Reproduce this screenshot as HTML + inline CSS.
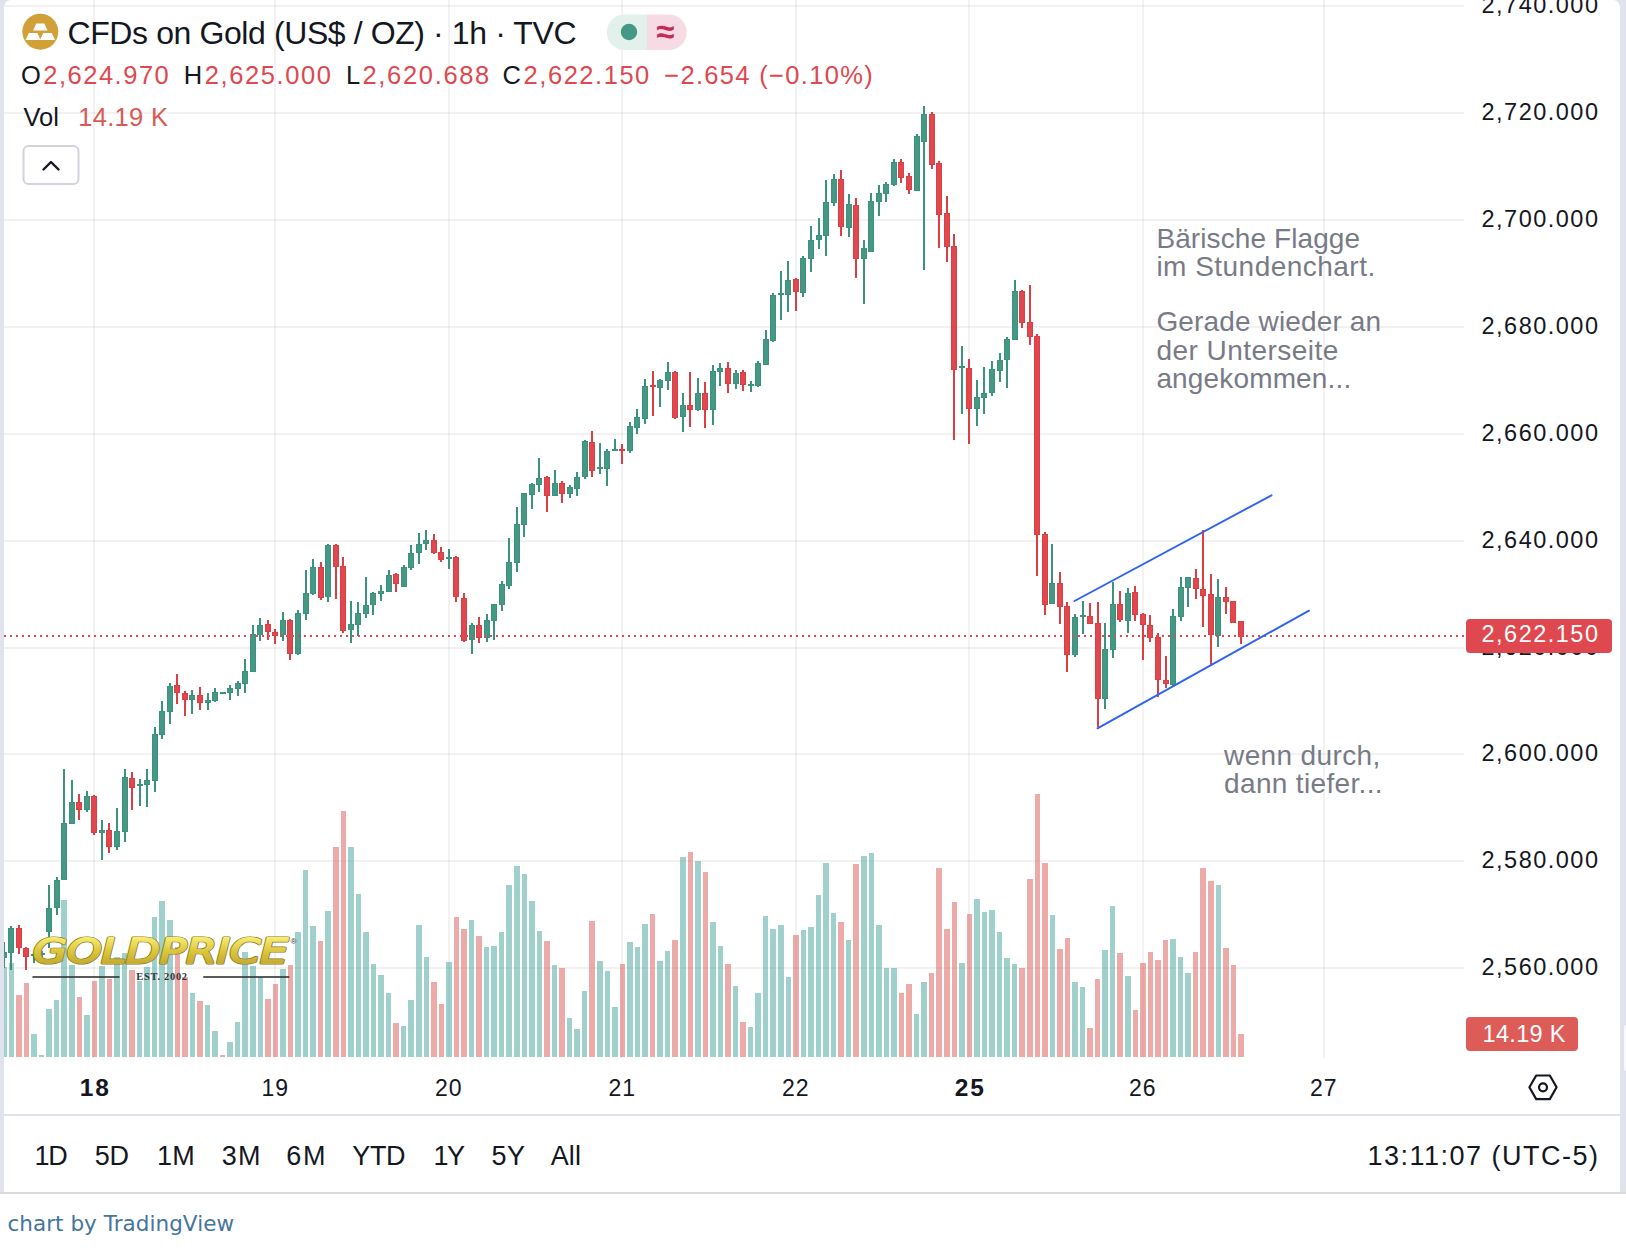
<!DOCTYPE html>
<html lang="de"><head><meta charset="utf-8"><title>CFDs on Gold (US$ / OZ) 1h TVC</title>
<style>html,body{margin:0;padding:0;background:#fff}body{width:1626px;height:1248px;position:relative;overflow:hidden}</style>
</head><body>
<svg width="1626" height="1248" viewBox="0 0 1626 1248" style="position:absolute;left:0;top:0;font-family:'Liberation Sans', sans-serif">
<defs>
<linearGradient id="gold" x1="0" y1="0" x2="0" y2="1">
<stop offset="0" stop-color="#b9a32e"/><stop offset="0.16" stop-color="#f8ec72"/><stop offset="0.5" stop-color="#dcc63e"/><stop offset="0.8" stop-color="#c6ac30"/><stop offset="1" stop-color="#eadb60"/>
</linearGradient>
<clipPath id="pane"><rect x="4" y="0" width="1460" height="1058"/></clipPath>
</defs>
<g shape-rendering="crispEdges">
<rect x="4" y="5" width="1460" height="2" fill="#000" fill-opacity="0.052"/>
<rect x="4" y="112" width="1460" height="2" fill="#000" fill-opacity="0.052"/>
<rect x="4" y="219" width="1460" height="2" fill="#000" fill-opacity="0.052"/>
<rect x="4" y="326" width="1460" height="2" fill="#000" fill-opacity="0.052"/>
<rect x="4" y="433" width="1460" height="2" fill="#000" fill-opacity="0.052"/>
<rect x="4" y="540" width="1460" height="2" fill="#000" fill-opacity="0.052"/>
<rect x="4" y="647" width="1460" height="2" fill="#000" fill-opacity="0.052"/>
<rect x="4" y="753" width="1460" height="2" fill="#000" fill-opacity="0.052"/>
<rect x="4" y="860" width="1460" height="2" fill="#000" fill-opacity="0.052"/>
<rect x="4" y="967" width="1460" height="2" fill="#000" fill-opacity="0.052"/>
<rect x="93" y="0" width="2" height="1058" fill="#000" fill-opacity="0.052"/>
<rect x="274" y="0" width="2" height="1058" fill="#000" fill-opacity="0.052"/>
<rect x="448" y="0" width="2" height="1058" fill="#000" fill-opacity="0.052"/>
<rect x="621" y="0" width="2" height="1058" fill="#000" fill-opacity="0.052"/>
<rect x="795" y="0" width="2" height="1058" fill="#000" fill-opacity="0.052"/>
<rect x="968" y="0" width="2" height="1058" fill="#000" fill-opacity="0.052"/>
<rect x="1142" y="0" width="2" height="1058" fill="#000" fill-opacity="0.052"/>
<rect x="1323" y="0" width="2" height="1058" fill="#000" fill-opacity="0.052"/>
</g>
<g shape-rendering="crispEdges" clip-path="url(#pane)">
<rect x="1" y="967" width="6" height="90" fill="rgba(65,161,151,0.5)"/>
<rect x="9" y="963" width="5" height="94" fill="rgba(65,161,151,0.5)"/>
<rect x="16" y="995" width="6" height="62" fill="rgba(217,87,83,0.5)"/>
<rect x="24" y="983" width="5" height="74" fill="rgba(217,87,83,0.5)"/>
<rect x="31" y="1034" width="6" height="23" fill="rgba(65,161,151,0.5)"/>
<rect x="39" y="1055" width="5" height="2" fill="rgba(65,161,151,0.5)"/>
<rect x="46" y="1009" width="6" height="48" fill="rgba(65,161,151,0.5)"/>
<rect x="54" y="1000" width="5" height="57" fill="rgba(65,161,151,0.5)"/>
<rect x="61" y="900" width="6" height="157" fill="rgba(65,161,151,0.5)"/>
<rect x="69" y="965" width="6" height="92" fill="rgba(65,161,151,0.5)"/>
<rect x="77" y="997" width="5" height="60" fill="rgba(217,87,83,0.5)"/>
<rect x="84" y="1015" width="6" height="42" fill="rgba(65,161,151,0.5)"/>
<rect x="92" y="981" width="5" height="76" fill="rgba(217,87,83,0.5)"/>
<rect x="99" y="966" width="6" height="91" fill="rgba(65,161,151,0.5)"/>
<rect x="107" y="979" width="5" height="78" fill="rgba(217,87,83,0.5)"/>
<rect x="114" y="957" width="6" height="100" fill="rgba(65,161,151,0.5)"/>
<rect x="122" y="953" width="5" height="104" fill="rgba(65,161,151,0.5)"/>
<rect x="129" y="970" width="6" height="87" fill="rgba(217,87,83,0.5)"/>
<rect x="137" y="981" width="5" height="76" fill="rgba(65,161,151,0.5)"/>
<rect x="144" y="967" width="6" height="90" fill="rgba(65,161,151,0.5)"/>
<rect x="152" y="917" width="5" height="140" fill="rgba(65,161,151,0.5)"/>
<rect x="159" y="901" width="6" height="156" fill="rgba(65,161,151,0.5)"/>
<rect x="167" y="920" width="6" height="137" fill="rgba(65,161,151,0.5)"/>
<rect x="175" y="947" width="5" height="110" fill="rgba(217,87,83,0.5)"/>
<rect x="182" y="977" width="6" height="80" fill="rgba(217,87,83,0.5)"/>
<rect x="190" y="993" width="5" height="64" fill="rgba(65,161,151,0.5)"/>
<rect x="197" y="1001" width="6" height="56" fill="rgba(217,87,83,0.5)"/>
<rect x="205" y="1005" width="5" height="52" fill="rgba(65,161,151,0.5)"/>
<rect x="212" y="1031" width="6" height="26" fill="rgba(65,161,151,0.5)"/>
<rect x="220" y="1055" width="5" height="2" fill="rgba(217,87,83,0.5)"/>
<rect x="227" y="1042" width="6" height="15" fill="rgba(65,161,151,0.5)"/>
<rect x="235" y="1022" width="5" height="35" fill="rgba(65,161,151,0.5)"/>
<rect x="242" y="952" width="6" height="105" fill="rgba(65,161,151,0.5)"/>
<rect x="250" y="966" width="6" height="91" fill="rgba(65,161,151,0.5)"/>
<rect x="258" y="977" width="5" height="80" fill="rgba(65,161,151,0.5)"/>
<rect x="265" y="999" width="6" height="58" fill="rgba(217,87,83,0.5)"/>
<rect x="273" y="984" width="5" height="73" fill="rgba(217,87,83,0.5)"/>
<rect x="280" y="969" width="6" height="88" fill="rgba(65,161,151,0.5)"/>
<rect x="288" y="965" width="5" height="92" fill="rgba(217,87,83,0.5)"/>
<rect x="295" y="932" width="6" height="125" fill="rgba(65,161,151,0.5)"/>
<rect x="303" y="870" width="5" height="187" fill="rgba(65,161,151,0.5)"/>
<rect x="310" y="926" width="6" height="131" fill="rgba(65,161,151,0.5)"/>
<rect x="318" y="941" width="5" height="116" fill="rgba(217,87,83,0.5)"/>
<rect x="325" y="911" width="6" height="146" fill="rgba(65,161,151,0.5)"/>
<rect x="333" y="847" width="6" height="210" fill="rgba(217,87,83,0.5)"/>
<rect x="341" y="811" width="5" height="246" fill="rgba(217,87,83,0.5)"/>
<rect x="348" y="847" width="6" height="210" fill="rgba(65,161,151,0.5)"/>
<rect x="356" y="894" width="5" height="163" fill="rgba(65,161,151,0.5)"/>
<rect x="363" y="932" width="6" height="125" fill="rgba(65,161,151,0.5)"/>
<rect x="371" y="964" width="5" height="93" fill="rgba(65,161,151,0.5)"/>
<rect x="378" y="975" width="6" height="82" fill="rgba(65,161,151,0.5)"/>
<rect x="386" y="993" width="5" height="64" fill="rgba(65,161,151,0.5)"/>
<rect x="393" y="1023" width="6" height="34" fill="rgba(217,87,83,0.5)"/>
<rect x="401" y="1026" width="5" height="31" fill="rgba(65,161,151,0.5)"/>
<rect x="408" y="1000" width="6" height="57" fill="rgba(65,161,151,0.5)"/>
<rect x="416" y="925" width="6" height="132" fill="rgba(65,161,151,0.5)"/>
<rect x="424" y="957" width="5" height="100" fill="rgba(65,161,151,0.5)"/>
<rect x="431" y="982" width="6" height="75" fill="rgba(217,87,83,0.5)"/>
<rect x="439" y="1004" width="5" height="53" fill="rgba(217,87,83,0.5)"/>
<rect x="446" y="962" width="6" height="95" fill="rgba(65,161,151,0.5)"/>
<rect x="454" y="917" width="5" height="140" fill="rgba(217,87,83,0.5)"/>
<rect x="461" y="929" width="6" height="128" fill="rgba(217,87,83,0.5)"/>
<rect x="469" y="920" width="5" height="137" fill="rgba(65,161,151,0.5)"/>
<rect x="476" y="936" width="6" height="121" fill="rgba(217,87,83,0.5)"/>
<rect x="484" y="947" width="5" height="110" fill="rgba(65,161,151,0.5)"/>
<rect x="491" y="946" width="6" height="111" fill="rgba(65,161,151,0.5)"/>
<rect x="499" y="932" width="5" height="125" fill="rgba(65,161,151,0.5)"/>
<rect x="506" y="885" width="6" height="172" fill="rgba(65,161,151,0.5)"/>
<rect x="514" y="866" width="6" height="191" fill="rgba(65,161,151,0.5)"/>
<rect x="522" y="874" width="5" height="183" fill="rgba(65,161,151,0.5)"/>
<rect x="529" y="901" width="6" height="156" fill="rgba(65,161,151,0.5)"/>
<rect x="537" y="931" width="5" height="126" fill="rgba(65,161,151,0.5)"/>
<rect x="544" y="941" width="6" height="116" fill="rgba(217,87,83,0.5)"/>
<rect x="552" y="965" width="5" height="92" fill="rgba(65,161,151,0.5)"/>
<rect x="559" y="968" width="6" height="89" fill="rgba(217,87,83,0.5)"/>
<rect x="567" y="1018" width="5" height="39" fill="rgba(65,161,151,0.5)"/>
<rect x="574" y="1029" width="6" height="28" fill="rgba(65,161,151,0.5)"/>
<rect x="582" y="991" width="5" height="66" fill="rgba(65,161,151,0.5)"/>
<rect x="589" y="921" width="6" height="136" fill="rgba(217,87,83,0.5)"/>
<rect x="597" y="961" width="6" height="96" fill="rgba(65,161,151,0.5)"/>
<rect x="605" y="971" width="5" height="86" fill="rgba(65,161,151,0.5)"/>
<rect x="612" y="1007" width="6" height="50" fill="rgba(65,161,151,0.5)"/>
<rect x="620" y="964" width="5" height="93" fill="rgba(217,87,83,0.5)"/>
<rect x="627" y="942" width="6" height="115" fill="rgba(65,161,151,0.5)"/>
<rect x="635" y="947" width="5" height="110" fill="rgba(65,161,151,0.5)"/>
<rect x="642" y="924" width="6" height="133" fill="rgba(65,161,151,0.5)"/>
<rect x="650" y="914" width="5" height="143" fill="rgba(217,87,83,0.5)"/>
<rect x="657" y="961" width="6" height="96" fill="rgba(65,161,151,0.5)"/>
<rect x="665" y="951" width="5" height="106" fill="rgba(65,161,151,0.5)"/>
<rect x="672" y="940" width="6" height="117" fill="rgba(217,87,83,0.5)"/>
<rect x="680" y="857" width="6" height="200" fill="rgba(65,161,151,0.5)"/>
<rect x="688" y="852" width="5" height="205" fill="rgba(217,87,83,0.5)"/>
<rect x="695" y="861" width="6" height="196" fill="rgba(65,161,151,0.5)"/>
<rect x="703" y="872" width="5" height="185" fill="rgba(217,87,83,0.5)"/>
<rect x="710" y="922" width="6" height="135" fill="rgba(65,161,151,0.5)"/>
<rect x="718" y="946" width="5" height="111" fill="rgba(65,161,151,0.5)"/>
<rect x="725" y="964" width="6" height="93" fill="rgba(217,87,83,0.5)"/>
<rect x="733" y="986" width="5" height="71" fill="rgba(65,161,151,0.5)"/>
<rect x="740" y="1022" width="6" height="35" fill="rgba(217,87,83,0.5)"/>
<rect x="748" y="1027" width="5" height="30" fill="rgba(65,161,151,0.5)"/>
<rect x="755" y="993" width="6" height="64" fill="rgba(65,161,151,0.5)"/>
<rect x="763" y="916" width="5" height="141" fill="rgba(65,161,151,0.5)"/>
<rect x="770" y="929" width="6" height="128" fill="rgba(65,161,151,0.5)"/>
<rect x="778" y="925" width="6" height="132" fill="rgba(65,161,151,0.5)"/>
<rect x="786" y="977" width="5" height="80" fill="rgba(65,161,151,0.5)"/>
<rect x="793" y="935" width="6" height="122" fill="rgba(217,87,83,0.5)"/>
<rect x="801" y="930" width="5" height="127" fill="rgba(65,161,151,0.5)"/>
<rect x="808" y="927" width="6" height="130" fill="rgba(65,161,151,0.5)"/>
<rect x="816" y="895" width="5" height="162" fill="rgba(65,161,151,0.5)"/>
<rect x="823" y="863" width="6" height="194" fill="rgba(65,161,151,0.5)"/>
<rect x="831" y="913" width="5" height="144" fill="rgba(65,161,151,0.5)"/>
<rect x="838" y="922" width="6" height="135" fill="rgba(217,87,83,0.5)"/>
<rect x="846" y="940" width="5" height="117" fill="rgba(65,161,151,0.5)"/>
<rect x="853" y="864" width="6" height="193" fill="rgba(217,87,83,0.5)"/>
<rect x="861" y="856" width="6" height="201" fill="rgba(65,161,151,0.5)"/>
<rect x="869" y="853" width="5" height="204" fill="rgba(65,161,151,0.5)"/>
<rect x="876" y="925" width="6" height="132" fill="rgba(65,161,151,0.5)"/>
<rect x="884" y="968" width="5" height="89" fill="rgba(65,161,151,0.5)"/>
<rect x="891" y="968" width="6" height="89" fill="rgba(65,161,151,0.5)"/>
<rect x="899" y="993" width="5" height="64" fill="rgba(217,87,83,0.5)"/>
<rect x="906" y="984" width="6" height="73" fill="rgba(217,87,83,0.5)"/>
<rect x="914" y="1014" width="5" height="43" fill="rgba(65,161,151,0.5)"/>
<rect x="921" y="982" width="6" height="75" fill="rgba(65,161,151,0.5)"/>
<rect x="929" y="973" width="5" height="84" fill="rgba(217,87,83,0.5)"/>
<rect x="936" y="868" width="6" height="189" fill="rgba(217,87,83,0.5)"/>
<rect x="944" y="929" width="6" height="128" fill="rgba(217,87,83,0.5)"/>
<rect x="952" y="902" width="5" height="155" fill="rgba(217,87,83,0.5)"/>
<rect x="959" y="963" width="6" height="94" fill="rgba(65,161,151,0.5)"/>
<rect x="967" y="914" width="5" height="143" fill="rgba(217,87,83,0.5)"/>
<rect x="974" y="899" width="6" height="158" fill="rgba(65,161,151,0.5)"/>
<rect x="982" y="912" width="5" height="145" fill="rgba(65,161,151,0.5)"/>
<rect x="989" y="910" width="6" height="147" fill="rgba(65,161,151,0.5)"/>
<rect x="997" y="932" width="5" height="125" fill="rgba(65,161,151,0.5)"/>
<rect x="1004" y="958" width="6" height="99" fill="rgba(65,161,151,0.5)"/>
<rect x="1012" y="964" width="5" height="93" fill="rgba(65,161,151,0.5)"/>
<rect x="1019" y="968" width="6" height="89" fill="rgba(217,87,83,0.5)"/>
<rect x="1027" y="879" width="6" height="178" fill="rgba(217,87,83,0.5)"/>
<rect x="1035" y="794" width="5" height="263" fill="rgba(217,87,83,0.5)"/>
<rect x="1042" y="863" width="6" height="194" fill="rgba(217,87,83,0.5)"/>
<rect x="1050" y="915" width="5" height="142" fill="rgba(65,161,151,0.5)"/>
<rect x="1057" y="949" width="6" height="108" fill="rgba(217,87,83,0.5)"/>
<rect x="1065" y="938" width="5" height="119" fill="rgba(217,87,83,0.5)"/>
<rect x="1072" y="982" width="6" height="75" fill="rgba(65,161,151,0.5)"/>
<rect x="1080" y="987" width="5" height="70" fill="rgba(65,161,151,0.5)"/>
<rect x="1087" y="1028" width="6" height="29" fill="rgba(217,87,83,0.5)"/>
<rect x="1095" y="979" width="5" height="78" fill="rgba(217,87,83,0.5)"/>
<rect x="1102" y="950" width="6" height="107" fill="rgba(65,161,151,0.5)"/>
<rect x="1110" y="906" width="5" height="151" fill="rgba(65,161,151,0.5)"/>
<rect x="1117" y="953" width="6" height="104" fill="rgba(217,87,83,0.5)"/>
<rect x="1125" y="976" width="6" height="81" fill="rgba(65,161,151,0.5)"/>
<rect x="1133" y="1010" width="5" height="47" fill="rgba(217,87,83,0.5)"/>
<rect x="1140" y="963" width="6" height="94" fill="rgba(217,87,83,0.5)"/>
<rect x="1148" y="952" width="5" height="105" fill="rgba(217,87,83,0.5)"/>
<rect x="1155" y="960" width="6" height="97" fill="rgba(217,87,83,0.5)"/>
<rect x="1163" y="940" width="5" height="117" fill="rgba(217,87,83,0.5)"/>
<rect x="1170" y="939" width="6" height="118" fill="rgba(65,161,151,0.5)"/>
<rect x="1178" y="957" width="5" height="100" fill="rgba(65,161,151,0.5)"/>
<rect x="1185" y="973" width="6" height="84" fill="rgba(65,161,151,0.5)"/>
<rect x="1193" y="952" width="5" height="105" fill="rgba(217,87,83,0.5)"/>
<rect x="1200" y="868" width="6" height="189" fill="rgba(217,87,83,0.5)"/>
<rect x="1208" y="881" width="6" height="176" fill="rgba(217,87,83,0.5)"/>
<rect x="1216" y="885" width="5" height="172" fill="rgba(65,161,151,0.5)"/>
<rect x="1223" y="948" width="6" height="109" fill="rgba(217,87,83,0.5)"/>
<rect x="1231" y="965" width="5" height="92" fill="rgba(217,87,83,0.5)"/>
<rect x="1238" y="1034" width="6" height="23" fill="rgba(217,87,83,0.5)"/>
</g>
<g shape-rendering="crispEdges" clip-path="url(#pane)">
<rect x="3" y="942" width="2" height="26" fill="#3b937d"/>
<rect x="1" y="952" width="6" height="6" fill="#3b937d"/>
<rect x="2" y="953" width="4" height="4" fill="#459883"/>
<rect x="10" y="926" width="2" height="44" fill="#3b937d"/>
<rect x="8" y="928" width="6" height="25" fill="#3b937d"/>
<rect x="9" y="929" width="4" height="23" fill="#459883"/>
<rect x="18" y="925" width="2" height="29" fill="#dd3e44"/>
<rect x="16" y="928" width="6" height="20" fill="#dd3e44"/>
<rect x="17" y="929" width="4" height="18" fill="#de484e"/>
<rect x="25" y="947" width="2" height="23" fill="#dd3e44"/>
<rect x="23" y="948" width="6" height="9" fill="#dd3e44"/>
<rect x="24" y="949" width="4" height="7" fill="#de484e"/>
<rect x="33" y="953" width="2" height="10" fill="#3b937d"/>
<rect x="31" y="954" width="6" height="2" fill="#3b937d"/>
<rect x="41" y="951" width="2" height="7" fill="#3b937d"/>
<rect x="39" y="953" width="6" height="2" fill="#3b937d"/>
<rect x="48" y="885" width="2" height="63" fill="#3b937d"/>
<rect x="46" y="908" width="6" height="24" fill="#3b937d"/>
<rect x="47" y="909" width="4" height="22" fill="#459883"/>
<rect x="56" y="877" width="2" height="38" fill="#3b937d"/>
<rect x="54" y="880" width="6" height="28" fill="#3b937d"/>
<rect x="55" y="881" width="4" height="26" fill="#459883"/>
<rect x="63" y="769" width="2" height="111" fill="#3b937d"/>
<rect x="61" y="823" width="6" height="57" fill="#3b937d"/>
<rect x="62" y="824" width="4" height="55" fill="#459883"/>
<rect x="71" y="780" width="2" height="44" fill="#3b937d"/>
<rect x="69" y="802" width="6" height="22" fill="#3b937d"/>
<rect x="70" y="803" width="4" height="20" fill="#459883"/>
<rect x="78" y="794" width="2" height="26" fill="#dd3e44"/>
<rect x="76" y="802" width="6" height="8" fill="#dd3e44"/>
<rect x="77" y="803" width="4" height="6" fill="#de484e"/>
<rect x="86" y="791" width="2" height="21" fill="#3b937d"/>
<rect x="84" y="796" width="6" height="14" fill="#3b937d"/>
<rect x="85" y="797" width="4" height="12" fill="#459883"/>
<rect x="93" y="795" width="2" height="40" fill="#dd3e44"/>
<rect x="91" y="796" width="6" height="37" fill="#dd3e44"/>
<rect x="92" y="797" width="4" height="35" fill="#de484e"/>
<rect x="101" y="820" width="2" height="40" fill="#3b937d"/>
<rect x="99" y="830" width="6" height="3" fill="#3b937d"/>
<rect x="100" y="831" width="4" height="1" fill="#459883"/>
<rect x="108" y="823" width="2" height="30" fill="#dd3e44"/>
<rect x="106" y="830" width="6" height="17" fill="#dd3e44"/>
<rect x="107" y="831" width="4" height="15" fill="#de484e"/>
<rect x="116" y="808" width="2" height="42" fill="#3b937d"/>
<rect x="114" y="831" width="6" height="16" fill="#3b937d"/>
<rect x="115" y="832" width="4" height="14" fill="#459883"/>
<rect x="124" y="769" width="2" height="73" fill="#3b937d"/>
<rect x="122" y="777" width="6" height="55" fill="#3b937d"/>
<rect x="123" y="778" width="4" height="53" fill="#459883"/>
<rect x="131" y="772" width="2" height="38" fill="#dd3e44"/>
<rect x="129" y="778" width="6" height="10" fill="#dd3e44"/>
<rect x="130" y="779" width="4" height="8" fill="#de484e"/>
<rect x="139" y="779" width="2" height="27" fill="#3b937d"/>
<rect x="137" y="784" width="6" height="2" fill="#3b937d"/>
<rect x="146" y="769" width="2" height="38" fill="#3b937d"/>
<rect x="144" y="780" width="6" height="5" fill="#3b937d"/>
<rect x="145" y="781" width="4" height="3" fill="#459883"/>
<rect x="154" y="727" width="2" height="65" fill="#3b937d"/>
<rect x="152" y="734" width="6" height="47" fill="#3b937d"/>
<rect x="153" y="735" width="4" height="45" fill="#459883"/>
<rect x="161" y="701" width="2" height="38" fill="#3b937d"/>
<rect x="159" y="711" width="6" height="24" fill="#3b937d"/>
<rect x="160" y="712" width="4" height="22" fill="#459883"/>
<rect x="169" y="683" width="2" height="41" fill="#3b937d"/>
<rect x="167" y="686" width="6" height="26" fill="#3b937d"/>
<rect x="168" y="687" width="4" height="24" fill="#459883"/>
<rect x="176" y="674" width="2" height="30" fill="#dd3e44"/>
<rect x="174" y="685" width="6" height="8" fill="#dd3e44"/>
<rect x="175" y="686" width="4" height="6" fill="#de484e"/>
<rect x="184" y="691" width="2" height="25" fill="#dd3e44"/>
<rect x="182" y="693" width="6" height="7" fill="#dd3e44"/>
<rect x="183" y="694" width="4" height="5" fill="#de484e"/>
<rect x="191" y="690" width="2" height="24" fill="#3b937d"/>
<rect x="189" y="695" width="6" height="5" fill="#3b937d"/>
<rect x="190" y="696" width="4" height="3" fill="#459883"/>
<rect x="199" y="687" width="2" height="23" fill="#dd3e44"/>
<rect x="197" y="695" width="6" height="8" fill="#dd3e44"/>
<rect x="198" y="696" width="4" height="6" fill="#de484e"/>
<rect x="207" y="693" width="2" height="17" fill="#3b937d"/>
<rect x="205" y="700" width="6" height="3" fill="#3b937d"/>
<rect x="206" y="701" width="4" height="1" fill="#459883"/>
<rect x="214" y="688" width="2" height="14" fill="#3b937d"/>
<rect x="212" y="692" width="6" height="9" fill="#3b937d"/>
<rect x="213" y="693" width="4" height="7" fill="#459883"/>
<rect x="222" y="692" width="2" height="2" fill="#3b937d"/>
<rect x="220" y="692" width="6" height="2" fill="#3b937d"/>
<rect x="229" y="685" width="2" height="15" fill="#3b937d"/>
<rect x="227" y="688" width="6" height="5" fill="#3b937d"/>
<rect x="228" y="689" width="4" height="3" fill="#459883"/>
<rect x="237" y="681" width="2" height="15" fill="#3b937d"/>
<rect x="235" y="683" width="6" height="6" fill="#3b937d"/>
<rect x="236" y="684" width="4" height="4" fill="#459883"/>
<rect x="244" y="659" width="2" height="34" fill="#3b937d"/>
<rect x="242" y="671" width="6" height="13" fill="#3b937d"/>
<rect x="243" y="672" width="4" height="11" fill="#459883"/>
<rect x="252" y="625" width="2" height="47" fill="#3b937d"/>
<rect x="250" y="634" width="6" height="38" fill="#3b937d"/>
<rect x="251" y="635" width="4" height="36" fill="#459883"/>
<rect x="259" y="618" width="2" height="23" fill="#3b937d"/>
<rect x="257" y="625" width="6" height="10" fill="#3b937d"/>
<rect x="258" y="626" width="4" height="8" fill="#459883"/>
<rect x="267" y="620" width="2" height="20" fill="#dd3e44"/>
<rect x="265" y="624" width="6" height="8" fill="#dd3e44"/>
<rect x="266" y="625" width="4" height="6" fill="#de484e"/>
<rect x="274" y="629" width="2" height="15" fill="#dd3e44"/>
<rect x="272" y="632" width="6" height="4" fill="#dd3e44"/>
<rect x="273" y="633" width="4" height="2" fill="#de484e"/>
<rect x="282" y="612" width="2" height="29" fill="#3b937d"/>
<rect x="280" y="620" width="6" height="15" fill="#3b937d"/>
<rect x="281" y="621" width="4" height="13" fill="#459883"/>
<rect x="289" y="619" width="2" height="41" fill="#dd3e44"/>
<rect x="287" y="620" width="6" height="34" fill="#dd3e44"/>
<rect x="288" y="621" width="4" height="32" fill="#de484e"/>
<rect x="297" y="610" width="2" height="45" fill="#3b937d"/>
<rect x="295" y="613" width="6" height="41" fill="#3b937d"/>
<rect x="296" y="614" width="4" height="39" fill="#459883"/>
<rect x="305" y="570" width="2" height="50" fill="#3b937d"/>
<rect x="303" y="593" width="6" height="21" fill="#3b937d"/>
<rect x="304" y="594" width="4" height="19" fill="#459883"/>
<rect x="312" y="559" width="2" height="36" fill="#3b937d"/>
<rect x="310" y="567" width="6" height="27" fill="#3b937d"/>
<rect x="311" y="568" width="4" height="25" fill="#459883"/>
<rect x="320" y="562" width="2" height="38" fill="#dd3e44"/>
<rect x="318" y="567" width="6" height="31" fill="#dd3e44"/>
<rect x="319" y="568" width="4" height="29" fill="#de484e"/>
<rect x="327" y="544" width="2" height="58" fill="#3b937d"/>
<rect x="325" y="545" width="6" height="52" fill="#3b937d"/>
<rect x="326" y="546" width="4" height="50" fill="#459883"/>
<rect x="335" y="544" width="2" height="55" fill="#dd3e44"/>
<rect x="333" y="545" width="6" height="22" fill="#dd3e44"/>
<rect x="334" y="546" width="4" height="20" fill="#de484e"/>
<rect x="342" y="557" width="2" height="76" fill="#dd3e44"/>
<rect x="340" y="566" width="6" height="65" fill="#dd3e44"/>
<rect x="341" y="567" width="4" height="63" fill="#de484e"/>
<rect x="350" y="601" width="2" height="42" fill="#3b937d"/>
<rect x="348" y="624" width="6" height="6" fill="#3b937d"/>
<rect x="349" y="625" width="4" height="4" fill="#459883"/>
<rect x="357" y="602" width="2" height="34" fill="#3b937d"/>
<rect x="355" y="613" width="6" height="12" fill="#3b937d"/>
<rect x="356" y="614" width="4" height="10" fill="#459883"/>
<rect x="365" y="577" width="2" height="41" fill="#3b937d"/>
<rect x="363" y="605" width="6" height="9" fill="#3b937d"/>
<rect x="364" y="606" width="4" height="7" fill="#459883"/>
<rect x="372" y="592" width="2" height="23" fill="#3b937d"/>
<rect x="370" y="593" width="6" height="12" fill="#3b937d"/>
<rect x="371" y="594" width="4" height="10" fill="#459883"/>
<rect x="380" y="585" width="2" height="16" fill="#3b937d"/>
<rect x="378" y="591" width="6" height="3" fill="#3b937d"/>
<rect x="379" y="592" width="4" height="1" fill="#459883"/>
<rect x="388" y="570" width="2" height="22" fill="#3b937d"/>
<rect x="386" y="575" width="6" height="17" fill="#3b937d"/>
<rect x="387" y="576" width="4" height="15" fill="#459883"/>
<rect x="395" y="573" width="2" height="19" fill="#dd3e44"/>
<rect x="393" y="574" width="6" height="10" fill="#dd3e44"/>
<rect x="394" y="575" width="4" height="8" fill="#de484e"/>
<rect x="403" y="565" width="2" height="22" fill="#3b937d"/>
<rect x="401" y="567" width="6" height="20" fill="#3b937d"/>
<rect x="402" y="568" width="4" height="18" fill="#459883"/>
<rect x="410" y="545" width="2" height="25" fill="#3b937d"/>
<rect x="408" y="553" width="6" height="15" fill="#3b937d"/>
<rect x="409" y="554" width="4" height="13" fill="#459883"/>
<rect x="418" y="533" width="2" height="31" fill="#3b937d"/>
<rect x="416" y="544" width="6" height="9" fill="#3b937d"/>
<rect x="417" y="545" width="4" height="7" fill="#459883"/>
<rect x="425" y="530" width="2" height="20" fill="#3b937d"/>
<rect x="423" y="540" width="6" height="4" fill="#3b937d"/>
<rect x="424" y="541" width="4" height="2" fill="#459883"/>
<rect x="433" y="534" width="2" height="20" fill="#dd3e44"/>
<rect x="431" y="540" width="6" height="13" fill="#dd3e44"/>
<rect x="432" y="541" width="4" height="11" fill="#de484e"/>
<rect x="440" y="547" width="2" height="15" fill="#dd3e44"/>
<rect x="438" y="552" width="6" height="8" fill="#dd3e44"/>
<rect x="439" y="553" width="4" height="6" fill="#de484e"/>
<rect x="448" y="549" width="2" height="20" fill="#3b937d"/>
<rect x="446" y="557" width="6" height="2" fill="#3b937d"/>
<rect x="455" y="556" width="2" height="46" fill="#dd3e44"/>
<rect x="453" y="557" width="6" height="40" fill="#dd3e44"/>
<rect x="454" y="558" width="4" height="38" fill="#de484e"/>
<rect x="463" y="593" width="2" height="49" fill="#dd3e44"/>
<rect x="461" y="598" width="6" height="43" fill="#dd3e44"/>
<rect x="462" y="599" width="4" height="41" fill="#de484e"/>
<rect x="471" y="623" width="2" height="31" fill="#3b937d"/>
<rect x="469" y="625" width="6" height="15" fill="#3b937d"/>
<rect x="470" y="626" width="4" height="13" fill="#459883"/>
<rect x="478" y="617" width="2" height="26" fill="#dd3e44"/>
<rect x="476" y="625" width="6" height="13" fill="#dd3e44"/>
<rect x="477" y="626" width="4" height="11" fill="#de484e"/>
<rect x="486" y="614" width="2" height="28" fill="#3b937d"/>
<rect x="484" y="620" width="6" height="18" fill="#3b937d"/>
<rect x="485" y="621" width="4" height="16" fill="#459883"/>
<rect x="493" y="604" width="2" height="36" fill="#3b937d"/>
<rect x="491" y="604" width="6" height="17" fill="#3b937d"/>
<rect x="492" y="605" width="4" height="15" fill="#459883"/>
<rect x="501" y="581" width="2" height="30" fill="#3b937d"/>
<rect x="499" y="584" width="6" height="21" fill="#3b937d"/>
<rect x="500" y="585" width="4" height="19" fill="#459883"/>
<rect x="508" y="538" width="2" height="51" fill="#3b937d"/>
<rect x="506" y="562" width="6" height="24" fill="#3b937d"/>
<rect x="507" y="563" width="4" height="22" fill="#459883"/>
<rect x="516" y="507" width="2" height="65" fill="#3b937d"/>
<rect x="514" y="524" width="6" height="39" fill="#3b937d"/>
<rect x="515" y="525" width="4" height="37" fill="#459883"/>
<rect x="523" y="493" width="2" height="44" fill="#3b937d"/>
<rect x="521" y="493" width="6" height="32" fill="#3b937d"/>
<rect x="522" y="494" width="4" height="30" fill="#459883"/>
<rect x="531" y="483" width="2" height="26" fill="#3b937d"/>
<rect x="529" y="484" width="6" height="11" fill="#3b937d"/>
<rect x="530" y="485" width="4" height="9" fill="#459883"/>
<rect x="538" y="458" width="2" height="34" fill="#3b937d"/>
<rect x="536" y="478" width="6" height="7" fill="#3b937d"/>
<rect x="537" y="479" width="4" height="5" fill="#459883"/>
<rect x="546" y="476" width="2" height="36" fill="#dd3e44"/>
<rect x="544" y="477" width="6" height="19" fill="#dd3e44"/>
<rect x="545" y="478" width="4" height="17" fill="#de484e"/>
<rect x="554" y="470" width="2" height="26" fill="#3b937d"/>
<rect x="552" y="483" width="6" height="13" fill="#3b937d"/>
<rect x="553" y="484" width="4" height="11" fill="#459883"/>
<rect x="561" y="481" width="2" height="22" fill="#dd3e44"/>
<rect x="559" y="483" width="6" height="11" fill="#dd3e44"/>
<rect x="560" y="484" width="4" height="9" fill="#de484e"/>
<rect x="569" y="485" width="2" height="13" fill="#3b937d"/>
<rect x="567" y="487" width="6" height="7" fill="#3b937d"/>
<rect x="568" y="488" width="4" height="5" fill="#459883"/>
<rect x="576" y="472" width="2" height="24" fill="#3b937d"/>
<rect x="574" y="477" width="6" height="12" fill="#3b937d"/>
<rect x="575" y="478" width="4" height="10" fill="#459883"/>
<rect x="584" y="440" width="2" height="39" fill="#3b937d"/>
<rect x="582" y="441" width="6" height="36" fill="#3b937d"/>
<rect x="583" y="442" width="4" height="34" fill="#459883"/>
<rect x="591" y="431" width="2" height="46" fill="#dd3e44"/>
<rect x="589" y="442" width="6" height="29" fill="#dd3e44"/>
<rect x="590" y="443" width="4" height="27" fill="#de484e"/>
<rect x="599" y="443" width="2" height="31" fill="#3b937d"/>
<rect x="597" y="467" width="6" height="2" fill="#3b937d"/>
<rect x="606" y="449" width="2" height="37" fill="#3b937d"/>
<rect x="604" y="451" width="6" height="18" fill="#3b937d"/>
<rect x="605" y="452" width="4" height="16" fill="#459883"/>
<rect x="614" y="439" width="2" height="12" fill="#3b937d"/>
<rect x="612" y="449" width="6" height="2" fill="#3b937d"/>
<rect x="621" y="444" width="2" height="20" fill="#dd3e44"/>
<rect x="619" y="449" width="6" height="2" fill="#dd3e44"/>
<rect x="629" y="422" width="2" height="31" fill="#3b937d"/>
<rect x="627" y="426" width="6" height="25" fill="#3b937d"/>
<rect x="628" y="427" width="4" height="23" fill="#459883"/>
<rect x="636" y="409" width="2" height="25" fill="#3b937d"/>
<rect x="634" y="417" width="6" height="11" fill="#3b937d"/>
<rect x="635" y="418" width="4" height="9" fill="#459883"/>
<rect x="644" y="379" width="2" height="45" fill="#3b937d"/>
<rect x="642" y="386" width="6" height="33" fill="#3b937d"/>
<rect x="643" y="387" width="4" height="31" fill="#459883"/>
<rect x="652" y="371" width="2" height="45" fill="#dd3e44"/>
<rect x="650" y="385" width="6" height="2" fill="#dd3e44"/>
<rect x="659" y="379" width="2" height="28" fill="#3b937d"/>
<rect x="657" y="380" width="6" height="8" fill="#3b937d"/>
<rect x="658" y="381" width="4" height="6" fill="#459883"/>
<rect x="667" y="362" width="2" height="28" fill="#3b937d"/>
<rect x="665" y="372" width="6" height="9" fill="#3b937d"/>
<rect x="666" y="373" width="4" height="7" fill="#459883"/>
<rect x="674" y="371" width="2" height="48" fill="#dd3e44"/>
<rect x="672" y="372" width="6" height="46" fill="#dd3e44"/>
<rect x="673" y="373" width="4" height="44" fill="#de484e"/>
<rect x="682" y="393" width="2" height="39" fill="#3b937d"/>
<rect x="680" y="405" width="6" height="12" fill="#3b937d"/>
<rect x="681" y="406" width="4" height="10" fill="#459883"/>
<rect x="689" y="372" width="2" height="55" fill="#dd3e44"/>
<rect x="687" y="405" width="6" height="5" fill="#dd3e44"/>
<rect x="688" y="406" width="4" height="3" fill="#de484e"/>
<rect x="697" y="378" width="2" height="33" fill="#3b937d"/>
<rect x="695" y="393" width="6" height="17" fill="#3b937d"/>
<rect x="696" y="394" width="4" height="15" fill="#459883"/>
<rect x="704" y="382" width="2" height="46" fill="#dd3e44"/>
<rect x="702" y="393" width="6" height="17" fill="#dd3e44"/>
<rect x="703" y="394" width="4" height="15" fill="#de484e"/>
<rect x="712" y="365" width="2" height="60" fill="#3b937d"/>
<rect x="710" y="371" width="6" height="39" fill="#3b937d"/>
<rect x="711" y="372" width="4" height="37" fill="#459883"/>
<rect x="719" y="363" width="2" height="23" fill="#3b937d"/>
<rect x="717" y="368" width="6" height="4" fill="#3b937d"/>
<rect x="718" y="369" width="4" height="2" fill="#459883"/>
<rect x="727" y="362" width="2" height="31" fill="#dd3e44"/>
<rect x="725" y="368" width="6" height="16" fill="#dd3e44"/>
<rect x="726" y="369" width="4" height="14" fill="#de484e"/>
<rect x="735" y="370" width="2" height="19" fill="#3b937d"/>
<rect x="733" y="373" width="6" height="11" fill="#3b937d"/>
<rect x="734" y="374" width="4" height="9" fill="#459883"/>
<rect x="742" y="370" width="2" height="21" fill="#dd3e44"/>
<rect x="740" y="372" width="6" height="13" fill="#dd3e44"/>
<rect x="741" y="373" width="4" height="11" fill="#de484e"/>
<rect x="750" y="381" width="2" height="11" fill="#3b937d"/>
<rect x="748" y="384" width="6" height="2" fill="#3b937d"/>
<rect x="757" y="361" width="2" height="26" fill="#3b937d"/>
<rect x="755" y="363" width="6" height="23" fill="#3b937d"/>
<rect x="756" y="364" width="4" height="21" fill="#459883"/>
<rect x="765" y="330" width="2" height="35" fill="#3b937d"/>
<rect x="763" y="339" width="6" height="26" fill="#3b937d"/>
<rect x="764" y="340" width="4" height="24" fill="#459883"/>
<rect x="772" y="293" width="2" height="49" fill="#3b937d"/>
<rect x="770" y="295" width="6" height="46" fill="#3b937d"/>
<rect x="771" y="296" width="4" height="44" fill="#459883"/>
<rect x="780" y="271" width="2" height="49" fill="#3b937d"/>
<rect x="778" y="293" width="6" height="2" fill="#3b937d"/>
<rect x="787" y="261" width="2" height="51" fill="#3b937d"/>
<rect x="785" y="280" width="6" height="15" fill="#3b937d"/>
<rect x="786" y="281" width="4" height="13" fill="#459883"/>
<rect x="795" y="278" width="2" height="33" fill="#dd3e44"/>
<rect x="793" y="279" width="6" height="13" fill="#dd3e44"/>
<rect x="794" y="280" width="4" height="11" fill="#de484e"/>
<rect x="802" y="256" width="2" height="41" fill="#3b937d"/>
<rect x="800" y="258" width="6" height="35" fill="#3b937d"/>
<rect x="801" y="259" width="4" height="33" fill="#459883"/>
<rect x="810" y="226" width="2" height="46" fill="#3b937d"/>
<rect x="808" y="240" width="6" height="19" fill="#3b937d"/>
<rect x="809" y="241" width="4" height="17" fill="#459883"/>
<rect x="818" y="218" width="2" height="31" fill="#3b937d"/>
<rect x="816" y="235" width="6" height="5" fill="#3b937d"/>
<rect x="817" y="236" width="4" height="3" fill="#459883"/>
<rect x="825" y="180" width="2" height="76" fill="#3b937d"/>
<rect x="823" y="202" width="6" height="34" fill="#3b937d"/>
<rect x="824" y="203" width="4" height="32" fill="#459883"/>
<rect x="833" y="174" width="2" height="32" fill="#3b937d"/>
<rect x="831" y="179" width="6" height="24" fill="#3b937d"/>
<rect x="832" y="180" width="4" height="22" fill="#459883"/>
<rect x="840" y="170" width="2" height="66" fill="#dd3e44"/>
<rect x="838" y="179" width="6" height="48" fill="#dd3e44"/>
<rect x="839" y="180" width="4" height="46" fill="#de484e"/>
<rect x="848" y="194" width="2" height="43" fill="#3b937d"/>
<rect x="846" y="204" width="6" height="24" fill="#3b937d"/>
<rect x="847" y="205" width="4" height="22" fill="#459883"/>
<rect x="855" y="198" width="2" height="80" fill="#dd3e44"/>
<rect x="853" y="205" width="6" height="54" fill="#dd3e44"/>
<rect x="854" y="206" width="4" height="52" fill="#de484e"/>
<rect x="863" y="240" width="2" height="64" fill="#3b937d"/>
<rect x="861" y="248" width="6" height="11" fill="#3b937d"/>
<rect x="862" y="249" width="4" height="9" fill="#459883"/>
<rect x="870" y="193" width="2" height="59" fill="#3b937d"/>
<rect x="868" y="201" width="6" height="51" fill="#3b937d"/>
<rect x="869" y="202" width="4" height="49" fill="#459883"/>
<rect x="878" y="185" width="2" height="31" fill="#3b937d"/>
<rect x="876" y="193" width="6" height="9" fill="#3b937d"/>
<rect x="877" y="194" width="4" height="7" fill="#459883"/>
<rect x="885" y="182" width="2" height="20" fill="#3b937d"/>
<rect x="883" y="184" width="6" height="10" fill="#3b937d"/>
<rect x="884" y="185" width="4" height="8" fill="#459883"/>
<rect x="893" y="159" width="2" height="27" fill="#3b937d"/>
<rect x="891" y="162" width="6" height="23" fill="#3b937d"/>
<rect x="892" y="163" width="4" height="21" fill="#459883"/>
<rect x="900" y="159" width="2" height="24" fill="#dd3e44"/>
<rect x="898" y="162" width="6" height="16" fill="#dd3e44"/>
<rect x="899" y="163" width="4" height="14" fill="#de484e"/>
<rect x="908" y="173" width="2" height="21" fill="#dd3e44"/>
<rect x="906" y="176" width="6" height="14" fill="#dd3e44"/>
<rect x="907" y="177" width="4" height="12" fill="#de484e"/>
<rect x="916" y="134" width="2" height="57" fill="#3b937d"/>
<rect x="914" y="136" width="6" height="55" fill="#3b937d"/>
<rect x="915" y="137" width="4" height="53" fill="#459883"/>
<rect x="923" y="106" width="2" height="164" fill="#3b937d"/>
<rect x="921" y="114" width="6" height="28" fill="#3b937d"/>
<rect x="922" y="115" width="4" height="26" fill="#459883"/>
<rect x="931" y="112" width="2" height="57" fill="#dd3e44"/>
<rect x="929" y="114" width="6" height="51" fill="#dd3e44"/>
<rect x="930" y="115" width="4" height="49" fill="#de484e"/>
<rect x="938" y="161" width="2" height="87" fill="#dd3e44"/>
<rect x="936" y="163" width="6" height="52" fill="#dd3e44"/>
<rect x="937" y="164" width="4" height="50" fill="#de484e"/>
<rect x="946" y="196" width="2" height="66" fill="#dd3e44"/>
<rect x="944" y="213" width="6" height="34" fill="#dd3e44"/>
<rect x="945" y="214" width="4" height="32" fill="#de484e"/>
<rect x="953" y="234" width="2" height="206" fill="#dd3e44"/>
<rect x="951" y="246" width="6" height="124" fill="#dd3e44"/>
<rect x="952" y="247" width="4" height="122" fill="#de484e"/>
<rect x="961" y="346" width="2" height="68" fill="#3b937d"/>
<rect x="959" y="366" width="6" height="2" fill="#3b937d"/>
<rect x="968" y="359" width="2" height="85" fill="#dd3e44"/>
<rect x="966" y="368" width="6" height="41" fill="#dd3e44"/>
<rect x="967" y="369" width="4" height="39" fill="#de484e"/>
<rect x="976" y="380" width="2" height="46" fill="#3b937d"/>
<rect x="974" y="397" width="6" height="12" fill="#3b937d"/>
<rect x="975" y="398" width="4" height="10" fill="#459883"/>
<rect x="983" y="367" width="2" height="47" fill="#3b937d"/>
<rect x="981" y="393" width="6" height="5" fill="#3b937d"/>
<rect x="982" y="394" width="4" height="3" fill="#459883"/>
<rect x="991" y="361" width="2" height="35" fill="#3b937d"/>
<rect x="989" y="369" width="6" height="24" fill="#3b937d"/>
<rect x="990" y="370" width="4" height="22" fill="#459883"/>
<rect x="999" y="353" width="2" height="29" fill="#3b937d"/>
<rect x="997" y="360" width="6" height="11" fill="#3b937d"/>
<rect x="998" y="361" width="4" height="9" fill="#459883"/>
<rect x="1006" y="337" width="2" height="51" fill="#3b937d"/>
<rect x="1004" y="339" width="6" height="21" fill="#3b937d"/>
<rect x="1005" y="340" width="4" height="19" fill="#459883"/>
<rect x="1014" y="280" width="2" height="60" fill="#3b937d"/>
<rect x="1012" y="291" width="6" height="49" fill="#3b937d"/>
<rect x="1013" y="292" width="4" height="47" fill="#459883"/>
<rect x="1021" y="290" width="2" height="38" fill="#dd3e44"/>
<rect x="1019" y="291" width="6" height="32" fill="#dd3e44"/>
<rect x="1020" y="292" width="4" height="30" fill="#de484e"/>
<rect x="1029" y="285" width="2" height="60" fill="#dd3e44"/>
<rect x="1027" y="322" width="6" height="15" fill="#dd3e44"/>
<rect x="1028" y="323" width="4" height="13" fill="#de484e"/>
<rect x="1036" y="334" width="2" height="242" fill="#dd3e44"/>
<rect x="1034" y="336" width="6" height="199" fill="#dd3e44"/>
<rect x="1035" y="337" width="4" height="197" fill="#de484e"/>
<rect x="1044" y="532" width="2" height="83" fill="#dd3e44"/>
<rect x="1042" y="534" width="6" height="71" fill="#dd3e44"/>
<rect x="1043" y="535" width="4" height="69" fill="#de484e"/>
<rect x="1051" y="544" width="2" height="60" fill="#3b937d"/>
<rect x="1049" y="583" width="6" height="21" fill="#3b937d"/>
<rect x="1050" y="584" width="4" height="19" fill="#459883"/>
<rect x="1059" y="572" width="2" height="52" fill="#dd3e44"/>
<rect x="1057" y="583" width="6" height="24" fill="#dd3e44"/>
<rect x="1058" y="584" width="4" height="22" fill="#de484e"/>
<rect x="1066" y="602" width="2" height="70" fill="#dd3e44"/>
<rect x="1064" y="606" width="6" height="49" fill="#dd3e44"/>
<rect x="1065" y="607" width="4" height="47" fill="#de484e"/>
<rect x="1074" y="614" width="2" height="43" fill="#3b937d"/>
<rect x="1072" y="617" width="6" height="38" fill="#3b937d"/>
<rect x="1073" y="618" width="4" height="36" fill="#459883"/>
<rect x="1082" y="601" width="2" height="33" fill="#3b937d"/>
<rect x="1080" y="615" width="6" height="2" fill="#3b937d"/>
<rect x="1089" y="603" width="2" height="21" fill="#dd3e44"/>
<rect x="1087" y="616" width="6" height="8" fill="#dd3e44"/>
<rect x="1088" y="617" width="4" height="6" fill="#de484e"/>
<rect x="1097" y="602" width="2" height="125" fill="#dd3e44"/>
<rect x="1095" y="623" width="6" height="76" fill="#dd3e44"/>
<rect x="1096" y="624" width="4" height="74" fill="#de484e"/>
<rect x="1104" y="623" width="2" height="86" fill="#3b937d"/>
<rect x="1102" y="649" width="6" height="50" fill="#3b937d"/>
<rect x="1103" y="650" width="4" height="48" fill="#459883"/>
<rect x="1112" y="582" width="2" height="76" fill="#3b937d"/>
<rect x="1110" y="604" width="6" height="46" fill="#3b937d"/>
<rect x="1111" y="605" width="4" height="44" fill="#459883"/>
<rect x="1119" y="591" width="2" height="31" fill="#dd3e44"/>
<rect x="1117" y="604" width="6" height="16" fill="#dd3e44"/>
<rect x="1118" y="605" width="4" height="14" fill="#de484e"/>
<rect x="1127" y="588" width="2" height="45" fill="#3b937d"/>
<rect x="1125" y="593" width="6" height="28" fill="#3b937d"/>
<rect x="1126" y="594" width="4" height="26" fill="#459883"/>
<rect x="1134" y="586" width="2" height="35" fill="#dd3e44"/>
<rect x="1132" y="592" width="6" height="23" fill="#dd3e44"/>
<rect x="1133" y="593" width="4" height="21" fill="#de484e"/>
<rect x="1142" y="613" width="2" height="47" fill="#dd3e44"/>
<rect x="1140" y="614" width="6" height="11" fill="#dd3e44"/>
<rect x="1141" y="615" width="4" height="9" fill="#de484e"/>
<rect x="1149" y="615" width="2" height="27" fill="#dd3e44"/>
<rect x="1147" y="625" width="6" height="13" fill="#dd3e44"/>
<rect x="1148" y="626" width="4" height="11" fill="#de484e"/>
<rect x="1157" y="633" width="2" height="64" fill="#dd3e44"/>
<rect x="1155" y="637" width="6" height="43" fill="#dd3e44"/>
<rect x="1156" y="638" width="4" height="41" fill="#de484e"/>
<rect x="1165" y="656" width="2" height="32" fill="#dd3e44"/>
<rect x="1163" y="680" width="6" height="4" fill="#dd3e44"/>
<rect x="1164" y="681" width="4" height="2" fill="#de484e"/>
<rect x="1172" y="609" width="2" height="78" fill="#3b937d"/>
<rect x="1170" y="616" width="6" height="69" fill="#3b937d"/>
<rect x="1171" y="617" width="4" height="67" fill="#459883"/>
<rect x="1180" y="577" width="2" height="44" fill="#3b937d"/>
<rect x="1178" y="587" width="6" height="30" fill="#3b937d"/>
<rect x="1179" y="588" width="4" height="28" fill="#459883"/>
<rect x="1187" y="577" width="2" height="30" fill="#3b937d"/>
<rect x="1185" y="577" width="6" height="11" fill="#3b937d"/>
<rect x="1186" y="578" width="4" height="9" fill="#459883"/>
<rect x="1195" y="569" width="2" height="30" fill="#dd3e44"/>
<rect x="1193" y="578" width="6" height="11" fill="#dd3e44"/>
<rect x="1194" y="579" width="4" height="9" fill="#de484e"/>
<rect x="1202" y="530" width="2" height="97" fill="#dd3e44"/>
<rect x="1200" y="589" width="6" height="7" fill="#dd3e44"/>
<rect x="1201" y="590" width="4" height="5" fill="#de484e"/>
<rect x="1210" y="574" width="2" height="91" fill="#dd3e44"/>
<rect x="1208" y="594" width="6" height="41" fill="#dd3e44"/>
<rect x="1209" y="595" width="4" height="39" fill="#de484e"/>
<rect x="1217" y="579" width="2" height="68" fill="#3b937d"/>
<rect x="1215" y="597" width="6" height="39" fill="#3b937d"/>
<rect x="1216" y="598" width="4" height="37" fill="#459883"/>
<rect x="1225" y="587" width="2" height="27" fill="#dd3e44"/>
<rect x="1223" y="597" width="6" height="5" fill="#dd3e44"/>
<rect x="1224" y="598" width="4" height="3" fill="#de484e"/>
<rect x="1232" y="601" width="2" height="22" fill="#dd3e44"/>
<rect x="1230" y="601" width="6" height="22" fill="#dd3e44"/>
<rect x="1231" y="602" width="4" height="20" fill="#de484e"/>
<rect x="1240" y="621" width="2" height="23" fill="#dd3e44"/>
<rect x="1238" y="621" width="6" height="16" fill="#dd3e44"/>
<rect x="1239" y="622" width="4" height="14" fill="#de484e"/>
</g>
<line x1="4" y1="636" x2="1466" y2="636" stroke="#de484e" stroke-width="2" stroke-dasharray="2 4" shape-rendering="crispEdges"/>
<g stroke="#2e62f6" stroke-width="1.9" stroke-linecap="round">
<line x1="1074.5" y1="601" x2="1271.5" y2="495.3"/>
<line x1="1097.5" y1="728.3" x2="1309" y2="610.6"/>
</g>
<g fill="#787b86" font-size="28px">
<text x="1156.4" y="247.5" textLength="203.7" lengthAdjust="spacing">Bärische Flagge</text>
<text x="1156.4" y="275.6" textLength="218.8" lengthAdjust="spacing">im Stundenchart.</text>
<text x="1156.4" y="331.3" textLength="224.7" lengthAdjust="spacing">Gerade wieder an</text>
<text x="1156.4" y="359.5" textLength="181.9" lengthAdjust="spacing">der Unterseite</text>
<text x="1156.4" y="387.5" textLength="194.8" lengthAdjust="spacing">angekommen...</text>
<text x="1224.1" y="765" textLength="156.1" lengthAdjust="spacing">wenn durch,</text>
<text x="1224.1" y="793" textLength="158.5" lengthAdjust="spacing">dann tiefer...</text>
</g>
<g fill="#131722" font-size="23.5px">
<text x="1481.5" y="13" textLength="116.5" lengthAdjust="spacing">2,740.000</text>
<text x="1481.5" y="120" textLength="116.5" lengthAdjust="spacing">2,720.000</text>
<text x="1481.5" y="227" textLength="116.5" lengthAdjust="spacing">2,700.000</text>
<text x="1481.5" y="334" textLength="116.5" lengthAdjust="spacing">2,680.000</text>
<text x="1481.5" y="441" textLength="116.5" lengthAdjust="spacing">2,660.000</text>
<text x="1481.5" y="547.5" textLength="116.5" lengthAdjust="spacing">2,640.000</text>
<text x="1481.5" y="654.5" textLength="116.5" lengthAdjust="spacing">2,620.000</text>
<text x="1481.5" y="761" textLength="116.5" lengthAdjust="spacing">2,600.000</text>
<text x="1481.5" y="868" textLength="116.5" lengthAdjust="spacing">2,580.000</text>
<text x="1481.5" y="975" textLength="116.5" lengthAdjust="spacing">2,560.000</text>
</g>
<rect x="1466" y="619" width="146" height="34" rx="4" fill="#de484e"/>
<text x="1481.5" y="642" font-size="23.5px" fill="#fff" textLength="116.5" lengthAdjust="spacing">2,622.150</text>
<rect x="1466" y="1017" width="112" height="34" rx="4" fill="#dd5c58"/>
<text x="1482.5" y="1041.5" font-size="23.5px" fill="#fff" textLength="83" lengthAdjust="spacing">14.19 K</text>
<g fill="#131722" font-size="23px" text-anchor="middle" letter-spacing="1">
<text x="95.3" y="1095.5" font-weight="bold" font-size="24.5px" letter-spacing="1.8">18</text>
<text x="275.2" y="1095.5">19</text>
<text x="448.7" y="1095.5">20</text>
<text x="622.2" y="1095.5">21</text>
<text x="795.7" y="1095.5">22</text>
<text x="970.3" y="1095.5" font-weight="bold" font-size="24.5px" letter-spacing="1.8">25</text>
<text x="1142.7" y="1095.5">26</text>
<text x="1323.7" y="1095.5">27</text>
</g>
<polygon points="1556.6,1087.3 1549.8,1099.1 1536.2,1099.1 1529.4,1087.3 1536.2,1075.5 1549.8,1075.5" fill="none" stroke="#131722" stroke-width="2.2" stroke-linejoin="round"/>
<circle cx="1543" cy="1087.3" r="4" fill="none" stroke="#131722" stroke-width="2.2"/>
<rect x="4" y="1114" width="1616" height="2" fill="#e0e3eb" shape-rendering="crispEdges"/>
<path d="M0 0 H11 A7 7 0 0 0 4 7 V1193 H0 Z" fill="#e0e3eb"/>
<path d="M1626 0 H1613 A7 7 0 0 1 1620 7 V1193 H1626 Z" fill="#e0e3eb"/>
<rect x="0" y="1192" width="1626" height="2" fill="#d9dadb" shape-rendering="crispEdges"/>
<rect x="1624" y="1025" width="8" height="46" rx="3" fill="#f8f9fc"/>
<g fill="#131722" font-size="27px">
<text x="34.4" y="1164.7" textLength="33.4" lengthAdjust="spacing">1D</text>
<text x="94.7" y="1164.7" textLength="34.3" lengthAdjust="spacing">5D</text>
<text x="157" y="1164.7" textLength="37.8" lengthAdjust="spacing">1M</text>
<text x="221.7" y="1164.7" textLength="38.7" lengthAdjust="spacing">3M</text>
<text x="286.3" y="1164.7" textLength="39.3" lengthAdjust="spacing">6M</text>
<text x="352.3" y="1164.7" textLength="53.2" lengthAdjust="spacing">YTD</text>
<text x="433.4" y="1164.7" textLength="31.7" lengthAdjust="spacing">1Y</text>
<text x="491.6" y="1164.7" textLength="33.4" lengthAdjust="spacing">5Y</text>
<text x="550.8" y="1164.7" textLength="30.1" lengthAdjust="spacing">All</text>
<text x="1367.5" y="1164.7" textLength="230.5" lengthAdjust="spacing">13:11:07 (UTC-5)</text>
</g>
<text x="7.5" y="1231.3" font-family="'DejaVu Sans', sans-serif" font-size="21.5px" fill="#44759c" textLength="226.5" lengthAdjust="spacing">chart by TradingView</text>
<circle cx="40.3" cy="31.7" r="18" fill="#d1a038"/>
<g fill="#fff"><path d="M36.3 23.5 h8 l3.2 7 h-14.4z"/><path d="M28.8 33 h8.6 l3.2 7 h-15z"/><path d="M43.2 33 h8.6 l3.2 7 h-15z"/></g>
<text x="67.5" y="44" font-size="32px" fill="#131722" textLength="509" lengthAdjust="spacing">CFDs on Gold (US$ / OZ) · 1h · TVC</text>
<path d="M624.5 14.5 H647 V50 H624.5 A17.75 17.75 0 0 1 624.5 14.5Z" fill="#e3f1ed"/>
<path d="M647 14.5 H669 A17.75 17.75 0 0 1 669 50 H647Z" fill="#f7dbe4"/>
<circle cx="629" cy="32" r="8.2" fill="#459883"/>
<text x="665" y="42.5" font-size="33px" font-style="italic" font-weight="bold" fill="#c9285c" text-anchor="middle">≈</text>
<g font-size="25.5px">
<text x="21" y="83.5" fill="#131722">O</text>
<text x="43.2" y="83.5" fill="#de484e" textLength="125.6" lengthAdjust="spacing">2,624.970</text>
<text x="183.8" y="83.5" fill="#131722">H</text>
<text x="204.8" y="83.5" fill="#de484e" textLength="126.2" lengthAdjust="spacing">2,625.000</text>
<text x="346" y="83.5" fill="#131722">L</text>
<text x="362.5" y="83.5" fill="#de484e" textLength="126.8" lengthAdjust="spacing">2,620.688</text>
<text x="502.6" y="83.5" fill="#131722">C</text>
<text x="523.6" y="83.5" fill="#de484e" textLength="125.7" lengthAdjust="spacing">2,622.150</text>
<text x="664.2" y="83.5" fill="#de484e" textLength="208.5" lengthAdjust="spacing">−2.654 (−0.10%)</text>
<text x="23.4" y="125.5" fill="#131722">Vol</text>
<text x="78.2" y="125.5" fill="#db5853" textLength="89.8" lengthAdjust="spacing">14.19 K</text>
</g>
<rect x="23.5" y="146" width="55" height="38" rx="5" fill="#fff" stroke="#d1d4dc" stroke-width="2"/>
<path d="M43.5 169.5 L51 162 L58.5 169.5" fill="none" stroke="#131722" stroke-width="2.4" stroke-linecap="round" stroke-linejoin="round"/>
<g>
<g font-family="'DejaVu Sans', sans-serif" font-size="34px" font-style="oblique">
<defs><text id="gp" x="33" y="963" stroke-linejoin="round" textLength="255" lengthAdjust="spacingAndGlyphs">GOLDPRICE</text></defs>
<use href="#gp" fill="#8a7a22" stroke="#8a7a22" stroke-width="3.2"/>
<use href="#gp" fill="url(#gold)" stroke="url(#gold)" stroke-width="1.8"/>
</g>
<text x="290.5" y="943.5" font-size="8px" fill="#333">®</text>
<rect x="32.5" y="976.2" width="87" height="1.6" fill="#333"/><rect x="203.3" y="976.2" width="86" height="1.6" fill="#333"/>
<text x="161.7" y="979.8" font-family="'Liberation Serif', serif" font-weight="bold" font-size="10.5px" fill="#333" text-anchor="middle" textLength="50.8" lengthAdjust="spacing">EST. 2002</text>
</g>
</svg>
</body></html>
